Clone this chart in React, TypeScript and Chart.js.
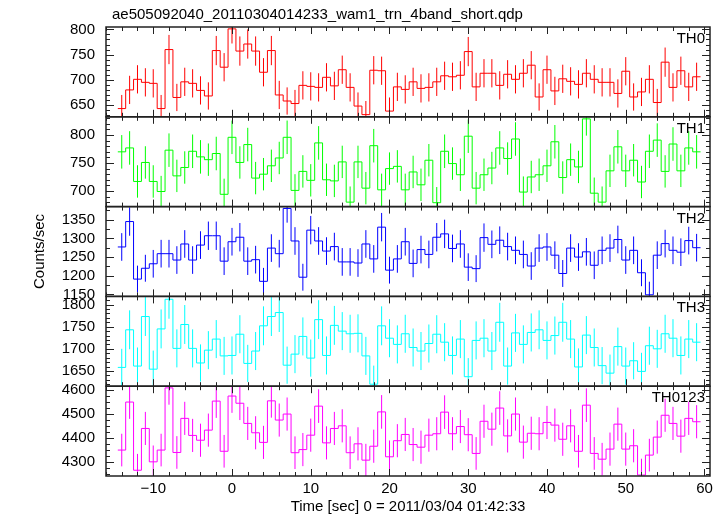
import React, { useEffect, useRef } from "react";
import { Chart, registerables } from "chart.js";

Chart.register(...registerables);

const TITLE = "ae505092040_20110304014233_wam1_trn_4band_short.qdp";
const X_TITLE = "Time [sec] 0 = 2011/03/04 01:42:33";
const Y_TITLE = "Counts/sec";

// bin centres (s), 1 s bins
const TIME = [-14,-13,-12,-11,-10,-9,-8,-7,-6,-5,-4,-3,-2,-1,0,1,2,3,4,5,6,7,8,9,10,11,12,13,14,15,16,17,18,19,20,21,22,23,24,25,26,27,28,29,30,31,32,33,34,35,36,37,38,39,40,41,42,43,44,45,46,47,48,49,50,51,52,53,54,55,56,57,58,59];
const BIN_WIDTH = 1;

const TH0 = [643,680,701,695,693,643,760,665,696,693,679,668,758,725,801,757,771,757,715,758,670,658,653,689,687,685,705,688,720,685,648,631,719,718,638,686,681,696,683,685,696,708,706,709,756,686,713,713,689,711,701,713,729,666,720,678,702,697,691,713,701,695,695,673,717,666,676,701,655,735,685,718,686,706];
const TH0_ERR = [27,28,28,28,28,27,29,27,28,28,28,27,29,28,29,29,29,29,28,29,28,27,27,28,28,28,28,28,28,28,27,27,28,28,27,28,28,28,28,28,28,28,28,28,29,28,28,28,28,28,28,28,28,27,28,28,28,28,28,28,28,28,28,28,28,27,28,28,27,29,28,28,28,28];

const TH1 = [770,777,717,751,717,699,773,727,742,771,761,756,767,694,796,751,783,723,730,745,759,796,701,735,719,786,720,718,752,680,752,705,781,702,740,744,702,734,711,755,679,771,749,729,798,705,729,741,777,758,793,698,725,729,745,788,724,756,743,829,696,680,736,779,736,755,716,771,791,735,784,736,777,770];
const TH1_ERR = [30,30,29,29,29,28,30,29,29,30,30,29,30,28,30,29,30,29,29,29,29,30,29,29,29,30,29,29,29,28,29,29,30,29,29,29,29,29,29,29,28,30,29,29,30,29,29,29,30,29,30,28,29,29,29,30,29,29,29,30,28,28,29,30,29,29,29,30,30,29,30,29,30,30];

const TH2 = [1277,1345,1191,1220,1232,1259,1259,1242,1285,1242,1282,1307,1307,1239,1291,1303,1239,1243,1185,1274,1259,1380,1293,1196,1322,1293,1266,1278,1237,1237,1234,1285,1245,1330,1215,1245,1291,1233,1270,1257,1303,1312,1273,1285,1223,1219,1302,1284,1295,1278,1268,1257,1226,1274,1277,1255,1206,1274,1250,1264,1228,1268,1274,1297,1242,1268,1208,1149,1255,1286,1268,1263,1294,1275];
const TH2_ERR = [37,38,36,36,37,37,37,37,37,37,37,38,38,37,37,38,37,37,36,37,37,38,37,36,38,37,37,37,37,37,37,37,37,38,36,37,37,37,37,37,38,38,37,37,37,36,38,37,37,37,37,37,37,37,37,37,36,37,37,37,37,37,37,37,37,37,36,35,37,37,37,37,37,37];

const TH3 = [1658,1743,1661,1773,1654,1745,1812,1701,1755,1701,1668,1697,1722,1684,1685,1733,1667,1695,1752,1773,1782,1663,1688,1728,1679,1766,1685,1753,1740,1734,1735,1684,1620,1752,1724,1710,1734,1703,1695,1712,1733,1715,1685,1722,1637,1719,1724,1695,1760,1661,1736,1710,1737,1743,1719,1730,1760,1722,1659,1731,1703,1662,1645,1705,1661,1673,1649,1707,1700,1734,1724,1685,1722,1715];
const TH3_ERR = [42,44,42,44,42,44,44,43,44,43,42,43,43,43,43,43,42,43,44,44,44,42,43,43,42,44,43,44,43,43,43,43,42,44,43,43,43,43,43,43,43,43,43,43,42,43,43,43,44,42,43,43,43,44,43,43,44,43,42,43,43,42,42,43,42,42,42,43,43,43,43,43,43,43];

const TH0123 = [4349,4549,4265,4439,4300,4349,4608,4339,4481,4410,4390,4432,4553,4344,4574,4544,4460,4421,4381,4554,4474,4499,4338,4351,4411,4532,4379,4439,4450,4338,4375,4307,4365,4508,4321,4388,4414,4372,4361,4411,4417,4507,4417,4447,4413,4335,4469,4436,4524,4408,4499,4382,4419,4417,4464,4453,4394,4450,4344,4536,4335,4311,4353,4457,4353,4367,4245,4328,4403,4494,4460,4407,4481,4467];
const TH0123_ERR = [68,70,68,69,68,68,70,68,69,69,69,69,70,68,70,70,69,69,69,70,69,69,68,69,69,70,69,69,69,68,69,68,69,70,68,69,69,69,69,69,69,70,69,69,69,68,69,69,70,69,69,69,69,69,69,69,69,69,68,70,68,68,69,69,69,69,68,68,69,69,69,69,69,69];

const PANELS = [
  { id: "y0", label: "TH0", values: TH0, errors: TH0_ERR, color: "#ff0000", min: 626.7, max: 804.7, major: 50, minor: 10 },
  { id: "y1", label: "TH1", values: TH1, errors: TH1_ERR, color: "#00ff00", min: 672, max: 832.7, major: 50, minor: 10 },
  { id: "y2", label: "TH2", values: TH2, errors: TH2_ERR, color: "#0000ff", min: 1144.7, max: 1385, major: 50, minor: 25 },
  { id: "y3", label: "TH3", values: TH3, errors: TH3_ERR, color: "#00ffff", min: 1615.5, max: 1818.5, major: 50, minor: 10 },
  { id: "y4", label: "TH0123", values: TH0123, errors: TH0123_ERR, color: "#ff00ff", min: 4241, max: 4615, major: 100, minor: 25 },
];

const X_MIN = -16;
const X_MAX = 60.7;
const X_MAJOR = 10;
const X_MINOR = 2;

const FONT = "'Liberation Sans', Arial, Helvetica, sans-serif";
const FONT_SIZE = 15;
const FRAME = "#222222";

function stepData(values: number[]) {
  const pts: { x: number; y: number }[] = values.map((v, i) => ({ x: TIME[i] - BIN_WIDTH / 2, y: v }));
  pts.push({ x: TIME[TIME.length - 1] + BIN_WIDTH / 2, y: values[values.length - 1] });
  return pts;
}

function errorData(values: number[], errors: number[]) {
  const pts: { x: number; y: number | null }[] = [];
  values.forEach((v, i) => {
    pts.push({ x: TIME[i], y: v - errors[i] });
    pts.push({ x: TIME[i], y: v + errors[i] });
    pts.push({ x: TIME[i], y: null });
  });
  return pts;
}

const decorations = {
  id: "decorations",
  afterDraw(chart: any) {
    const ctx = chart.ctx as CanvasRenderingContext2D;
    const xs = chart.scales.x;
    const left = xs.left;
    const right = xs.right;
    ctx.save();
    ctx.strokeStyle = FRAME;
    ctx.lineWidth = 1;
    const seg = (x1: number, y1: number, x2: number, y2: number) => {
      ctx.beginPath();
      ctx.moveTo(x1, y1);
      ctx.lineTo(x2, y2);
      ctx.stroke();
    };
    PANELS.forEach((p) => {
      const ys = chart.scales[p.id];
      const top = ys.top;
      const bottom = ys.bottom;
      for (let v = Math.ceil(ys.min / p.minor) * p.minor; v <= ys.max; v += p.minor) {
        const y = Math.round(ys.getPixelForValue(v)) + 0.5;
        const major = Math.abs(v / p.major - Math.round(v / p.major)) < 1e-6;
        const len = major ? 8 : 4;
        seg(left, y, left + len, y);
        seg(right, y, right - len, y);
      }
      for (let t = Math.ceil(X_MIN / X_MINOR) * X_MINOR; t <= X_MAX; t += X_MINOR) {
        const x = Math.round(xs.getPixelForValue(t)) + 0.5;
        const major = Math.abs(t / X_MAJOR - Math.round(t / X_MAJOR)) < 1e-6;
        const len = major ? 7 : 4;
        seg(x, top, x, top + len);
        seg(x, bottom, x, bottom - len);
      }
      ctx.lineWidth = 1.5;
      ctx.strokeRect(left, top, right - left, bottom - top);
      ctx.lineWidth = 1;
      ctx.fillStyle = "#000";
      ctx.font = `${FONT_SIZE}px ${FONT}`;
      ctx.textAlign = "right";
      ctx.textBaseline = "alphabetic";
      ctx.fillText(p.label, right - 5, top + 16);
    });
    ctx.fillStyle = "#000";
    ctx.font = `${FONT_SIZE}px ${FONT}`;
    ctx.textAlign = "left";
    ctx.textBaseline = "alphabetic";
    ctx.fillText(TITLE, 112, 19);
    const first = chart.scales[PANELS[0].id];
    const last = chart.scales[PANELS[PANELS.length - 1].id];
    ctx.translate(40, (first.top + last.bottom) / 2);
    ctx.rotate(-Math.PI / 2);
    ctx.textAlign = "center";
    ctx.textBaseline = "middle";
    ctx.fillText(Y_TITLE, 0, 0);
    ctx.restore();
  },
};

export default function App() {
  const ref = useRef<HTMLCanvasElement | null>(null);
  useEffect(() => {
    if (!ref.current) return;
    const datasets: any[] = [];
    PANELS.forEach((p) => {
      datasets.push({
        data: stepData(p.values),
        yAxisID: p.id,
        xAxisID: "x",
        borderColor: p.color,
        borderWidth: 1,
        pointRadius: 0,
        stepped: "before",
        fill: false,
        clip: 0,
      });
      datasets.push({
        data: errorData(p.values, p.errors),
        yAxisID: p.id,
        xAxisID: "x",
        borderColor: p.color,
        borderWidth: 1,
        pointRadius: 0,
        spanGaps: false,
        fill: false,
        clip: 0,
      });
    });
    const scales: any = {
      x: {
        type: "linear",
        position: "bottom",
        min: X_MIN,
        max: X_MAX,
        grid: { display: false, drawTicks: false },
        border: { display: false },
        ticks: {
          stepSize: X_MAJOR,
          includeBounds: false,
          autoSkip: false,
          maxRotation: 0,
          padding: 4,
          color: "#000",
          font: { family: FONT, size: FONT_SIZE },
          callback: (v: any) => String(v).replace("-", "\u2212"),
        },
        title: { display: true, text: X_TITLE, color: "#000", font: { family: FONT, size: FONT_SIZE }, padding: 0 },
        afterFit: (s: any) => {
          s.height = 40;
        },
      },
    };
    [...PANELS].reverse().forEach((p) => {
      scales[p.id] = {
        type: "linear",
        position: "left",
        stack: "panels",
        stackWeight: 1,
        offset: false,
        min: p.min,
        max: p.max,
        grid: { display: false, drawTicks: false },
        border: { display: false },
        ticks: {
          stepSize: p.major,
          includeBounds: false,
          autoSkip: false,
          padding: 11,
          color: "#000",
          font: { family: FONT, size: FONT_SIZE },
          callback: (v: any) => String(v),
        },
        afterFit: (s: any) => {
          s.width = 60;
        },
      };
    });
    const chart = new Chart(ref.current, {
      type: "line",
      data: { datasets },
      options: {
        animation: false,
        responsive: false,
        devicePixelRatio: 1,
        events: [],
        layout: { padding: { left: 46, right: 16, top: 27, bottom: 0 } },
        plugins: { legend: { display: false }, tooltip: { enabled: false }, title: { display: false } },
        scales,
      } as any,
      plugins: [decorations],
    });
    return () => chart.destroy();
  }, []);
  return (
    <div style={{ position: "fixed", left: 0, top: 0, width: 726, height: 516, background: "#fff" }}>
      <canvas ref={ref} width={726} height={516} style={{ display: "block", width: 726, height: 516 }} />
    </div>
  );
}
